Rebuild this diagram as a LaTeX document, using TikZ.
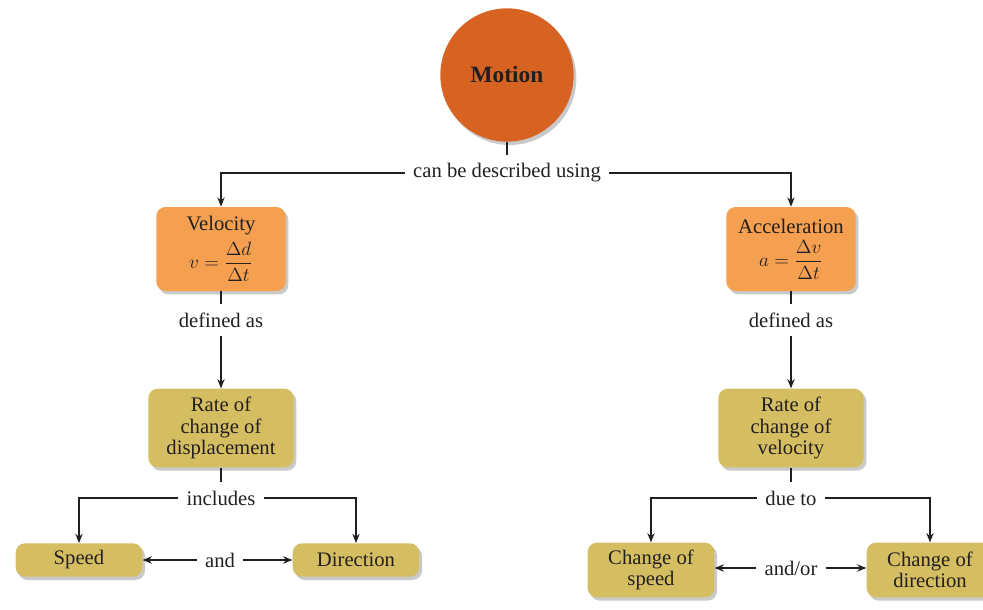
\documentclass[tikz,border=0pt]{standalone}
\usepackage{amsmath}
\usepackage{fontspec}
\setmainfont{Liberation Serif}
\usetikzlibrary{shadows,arrows.meta}
\definecolor{inkdark}{RGB}{35,31,32}
\definecolor{motionfill}{RGB}{215,99,35}
\definecolor{quantfill}{RGB}{245,160,80}
\definecolor{ratefill}{RGB}{213,190,98}

\begin{document}
\begin{tikzpicture}[x=0.75pt,y=0.75pt,yscale=-1,xscale=1,
	every node/.style={text=inkdark, font=\fontsize{15.5}{16}\selectfont},
	conn/.style={draw=inkdark, line width=0.9pt},
	arr/.style={conn, -{Stealth[length=7pt,width=5.5pt]}},
	boxshadow/.style={drop shadow={shadow xshift=2pt, shadow yshift=-2.5pt, opacity=0.3, fill=black!70}},
	quantbox/.style={fill=quantfill, rounded corners=7pt, boxshadow, align=center, minimum width=97pt, minimum height=63pt, inner sep=2pt},
	ratebox/.style={fill=ratefill, rounded corners=7pt, boxshadow, align=center, minimum width=109pt, minimum height=59pt, inner sep=2pt},
	endbox/.style={fill=ratefill, rounded corners=7pt, boxshadow, align=center, minimum width=95pt, inner sep=2pt},
	linklabel/.style={inner sep=6pt}]
	\useasboundingbox (0,0) rectangle (983,610);

	\node [circle, fill=motionfill, boxshadow, minimum size=100pt, font=\fontsize{17.5}{20}\selectfont\bfseries] (motion) at (507,75) {Motion};
	\node [linklabel] (described) at (507,173) {can be described using};

	\node [quantbox] (velocity) at (221,249) {Velocity\\[4pt] $v=\dfrac{\Delta d}{\Delta t}$};
	\node [quantbox] (accel) at (791,249) {Acceleration\\[4pt] $a=\dfrac{\Delta v}{\Delta t}$};

	\node [linklabel] (defv) at (221,320) {defined as};
	\node [linklabel] (defa) at (791,320) {defined as};

	\node [ratebox] (ratev) at (221,428) {Rate of\\ change of\\ displacement};
	\node [ratebox] (ratea) at (791,428) {Rate of\\ change of\\ velocity};

	\node [linklabel] (incl) at (221,498) {includes};
	\node [linklabel] (dueto) at (791,498) {due to};

	\node [endbox, minimum height=25pt] (speed) at (79,560) {Speed};
	\node [endbox, minimum height=25pt] (direction) at (356,560) {Direction};
	\node [linklabel] (andl) at (220,560) {and};

	\node [endbox, minimum height=41pt] (cspeed) at (651,570) {Change of\\ speed};
	\node [endbox, minimum height=41pt] (cdir) at (930,570) {Change of\\ direction};
	\node [linklabel] (andor) at (791,568) {and/or};

	\draw [conn] (motion) -- (described);
	\draw [arr] (described.west) -| (velocity.north);
	\draw [arr] (described.east) -| (accel.north);
	\draw [conn] (velocity) -- (defv);
	\draw [arr] (defv) -- (ratev);
	\draw [conn] (accel) -- (defa);
	\draw [arr] (defa) -- (ratea);
	\draw [conn] (ratev) -- (incl);
	\draw [arr] (incl.west) -| (speed.north);
	\draw [arr] (incl.east) -| (direction.north);
	\draw [conn] (ratea) -- (dueto);
	\draw [arr] (dueto.west) -| (cspeed.north);
	\draw [arr] (dueto.east) -| (cdir.north);
	\draw [arr] (andl.west) -- (speed.east);
	\draw [arr] (andl.east) -- (direction.west);
	\draw [arr] (andor.west) -- (andor.west -| cspeed.east);
	\draw [arr] (andor.east) -- (andor.east -| cdir.west);
\end{tikzpicture}
\end{document}
